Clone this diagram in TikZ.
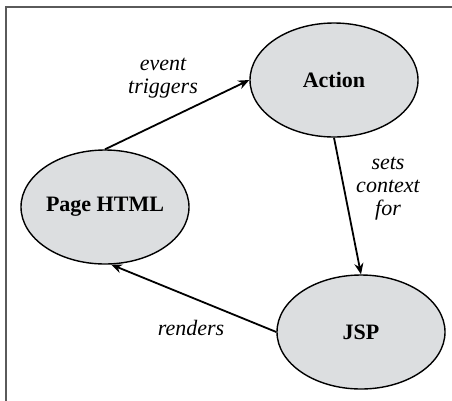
\documentclass[tikz,border=0pt]{standalone}
\usepackage{fontspec}
\setmainfont{Liberation Serif}
\usetikzlibrary{shapes.geometric,arrows.meta}
\definecolor{nodefill}{RGB}{220,222,224}
\definecolor{framegray}{RGB}{90,90,90}
\tikzset{
  state/.style={ellipse,draw=black,line width=1.4pt,fill=nodefill,
    minimum width=168pt,minimum height=114pt,inner sep=0pt,
    font=\fontsize{22}{24}\selectfont\bfseries},
  conn/.style={line width=1.8pt,-{Stealth[length=11pt,width=9pt]}},
  lbl/.style={font=\fontsize{22}{23}\selectfont\itshape,align=center,inner sep=0pt}
}
\begin{document}
\begin{tikzpicture}[x=1pt,y=-1pt]
\useasboundingbox (0,0) rectangle (452,400);
\begin{scope}
\clip (0,0) rectangle (452,400);
\draw[framegray,line width=1.2pt] (6,407) -- (6,7) -- (460,7);
\end{scope}
\node[state] (act) at (334,80) {Action};
\node[state] (ph) at (105,207) {Page HTML};
\node[state] (jsp) at (361,332) {JSP};
\draw[conn] (ph.north) -- (act.west);
\draw[conn] (act.south) -- (jsp.north);
\draw[conn] (jsp.west) -- (ph.-84);
\node[lbl] (l1) at (163,78) {event\\triggers};
\node[lbl] (l2) at (388,189) {sets\\context\\for};
\node[lbl] (l3) at (191,328) {renders};
\end{tikzpicture}
\end{document}
